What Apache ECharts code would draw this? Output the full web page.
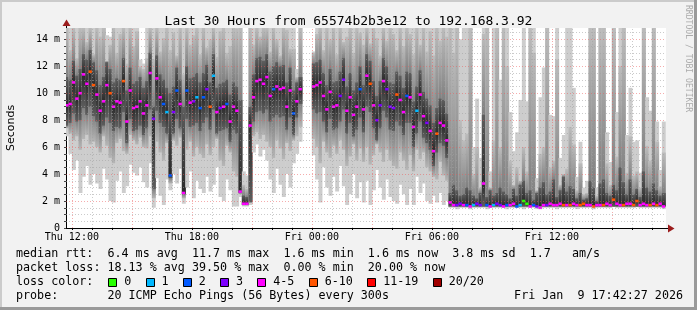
<!DOCTYPE html>
<html><head><meta charset="utf-8">
<script src="https://cdn.jsdelivr.net/npm/echarts@6/dist/echarts.min.js"></script>
<style>html,body{margin:0;padding:0;background:#f2f2f2;}#c{width:697px;height:310px;}</style>
</head><body><div id="c"></div>
<script>
// ---------- data ----------
const chartTitle = 'Last 30 Hours from 65574b2b3e12 to 192.168.3.92';
const t0 = 705, step = 10;            // 10-minute slots, minutes since Thu 00:00
const xMin = 702.45, xMax = 2502.45;  // Thu 11:42:27 .. Fri 17:42:27
const xLabelValues = [720, 1080, 1440, 1800, 2160];
const xLabels = ['Thu 12:00', 'Thu 18:00', 'Fri 00:00', 'Fri 06:00', 'Fri 12:00'];
const yMax = 14.84;
const yLabelValues = [0, 2, 4, 6, 8, 10, 12, 14];
const yLabels = ['0', '2 m', '4 m', '6 m', '8 m', '10 m', '12 m', '14 m'];

const med = [9.1,9.2,10.8,9.6,10.0,11.4,10.7,11.6,10.6,9.9,
 8.7,9.4,10.6,10.0,9.0,9.4,9.3,10.9,7.9,10.2,
 8.9,9.0,9.4,8.5,9.1,11.5,8.1,11.1,9.7,9.2,
 8.6,3.9,8.6,10.2,9.2,2.6,10.2,9.3,9.4,9.7,
 8.9,9.7,10.3,9.0,11.3,8.6,8.9,9.0,9.2,7.9,
 9.0,8.7,2.7,1.8,1.8,7.6,9.7,10.9,11.0,10.7,
 11.2,9.8,10.3,10.5,10.3,10.4,9.0,10.2,8.5,9.4,
 10.3,null,null,null,10.5,10.6,10.8,9.8,8.8,10.1,
 9.0,9.1,9.8,11.0,8.7,9.7,8.4,9.0,10.3,8.8,
 11.3,10.7,9.1,8.0,9.1,10.9,10.3,9.0,8.9,9.9,
 9.5,8.6,9.8,9.7,7.5,8.7,9.9,8.3,7.8,7.2,
 5.7,7.0,7.8,7.6,6.5,1.9,1.7,1.7,1.8,1.7,
 1.7,1.6,1.7,1.8,1.7,3.3,1.7,1.6,1.7,1.8,
 1.7,1.6,1.7,1.7,1.8,1.6,1.7,2.0,1.8,1.6,
 1.7,1.6,1.5,1.7,1.7,1.8,1.7,1.7,1.8,1.7,
 1.7,1.7,1.8,1.7,1.7,1.8,1.7,1.7,1.6,1.7,
 1.7,1.7,1.8,1.7,2.1,1.8,1.7,1.7,1.8,1.8,
 1.7,2.0,1.7,1.8,1.7,1.7,1.8,1.7,1.8,1.6];

// lost pings out of 20 per slot
const loss = [4,4,4,4,4,4,4,7,7,4,
 4,4,4,7,4,4,4,7,4,4,
 4,4,4,4,4,4,3,4,4,2,
 1,2,3,2,4,4,2,4,3,1,
 2,2,3,7,1,4,3,4,2,4,
 4,4,4,4,4,4,4,4,4,4,
 4,4,2,4,4,4,4,4,2,4,
 4,null,null,null,4,4,4,4,4,4,
 4,4,3,3,4,4,4,4,2,4,
 4,7,4,3,3,4,3,3,3,7,
 4,4,2,4,4,1,4,4,3,4,
 4,7,4,4,4,4,4,3,3,4,
 2,4,1,3,3,4,2,4,1,3,
 3,4,2,4,4,2,1,0,0,4,
 2,3,4,4,3,4,4,4,4,7,
 4,7,4,4,7,7,4,4,7,4,
 4,7,4,4,7,4,4,7,4,4,
 7,7,4,4,4,7,4,7,4,4];

// smoke: lowest ping, outer-middle band, dark core band, highest ping (ms)
const smokeLo = [6.8,5.5,4.3,5.0,2.6,3.8,4.6,3.2,4.0,3.3,
 2.9,4.4,3.6,2.0,1.9,3.5,4.2,2.6,3.1,4.7,
 4.1,3.9,4.5,3.4,3.0,4.8,1.5,3.7,2.4,1.7,
 3.6,2.8,4.0,3.3,4.4,1.8,3.0,4.2,2.2,3.5,
 2.9,2.6,3.8,2.7,3.2,4.5,2.3,2.0,3.6,2.8,
 1.6,1.6,2.3,1.6,1.6,1.7,5.6,6.2,5.3,5.8,
 5.0,3.6,2.6,4.4,3.2,2.3,4.0,3.0,4.8,5.5,
 6.4,null,null,null,5.4,3.6,1.9,4.5,3.0,2.4,
 3.8,2.7,4.6,3.1,1.7,2.5,4.0,2.2,3.4,1.9,
 3.5,1.7,2.8,4.3,3.0,2.1,3.6,2.3,2.0,1.8,
 3.2,2.5,1.7,2.9,1.7,3.8,2.6,3.3,2.0,1.8,
 2.4,1.9,2.6,1.7,2.0,1.5,1.5,1.4,1.5,1.5,
 1.5,1.4,1.5,1.5,1.5,1.5,1.4,1.5,1.5,1.5,
 1.5,1.5,1.4,1.5,1.5,1.5,1.5,1.4,1.5,1.5,
 1.5,1.4,1.4,1.5,1.5,1.5,1.5,1.4,1.5,1.5,
 1.5,1.5,1.5,1.4,1.5,1.5,1.5,1.5,1.4,1.5,
 1.5,1.5,1.5,1.5,1.6,1.5,1.5,1.5,1.5,1.5,
 1.5,1.6,1.5,1.5,1.5,1.5,1.5,1.5,1.5,1.4];

const smokeMidLo = [7.4,7.0,6.5,6.8,5.8,6.6,6.9,6.2,6.4,6.0,
 5.6,6.8,6.1,5.2,4.8,6.3,6.6,5.7,5.5,6.9,
 6.5,6.2,6.7,6.0,5.9,6.8,2.2,6.4,5.6,5.0,
 6.3,3.3,6.5,6.1,6.7,2.2,5.8,6.4,5.3,6.0,
 5.5,5.2,6.2,5.4,6.0,6.6,5.0,4.6,6.1,5.6,
 4.2,3.8,2.5,1.7,1.7,1.9,6.8,7.1,6.6,6.9,
 6.4,6.0,5.2,6.5,5.9,5.1,6.3,5.7,6.5,6.8,
 7.5,null,null,null,6.6,6.0,4.8,6.4,5.6,5.2,
 6.1,5.5,6.5,5.8,4.6,5.3,6.2,5.0,5.9,4.9,
 6.0,4.7,5.4,6.2,5.6,4.9,5.8,5.0,4.6,4.4,
 5.6,5.0,4.3,5.4,4.2,5.8,5.1,5.6,4.5,4.2,
 3.8,3.6,4.9,3.9,3.5,1.55,1.55,1.55,1.55,1.55,
 1.55,1.55,1.55,1.55,1.55,1.55,1.55,1.55,1.55,1.55,
 1.55,1.55,1.55,1.55,1.55,1.55,1.55,1.55,1.55,1.55,
 1.55,1.55,1.55,1.55,1.55,1.55,1.55,1.55,1.55,1.55,
 1.55,1.55,1.55,1.55,1.55,1.55,1.55,1.55,1.55,1.55,
 1.55,1.55,1.55,1.55,1.55,1.55,1.55,1.55,1.55,1.55,
 1.55,1.55,1.55,1.55,1.55,1.55,1.55,1.55,1.55,1.55];

const smokeDarkLo = [7.6,7.8,8.5,7.9,8.0,8.9,8.4,9.0,8.3,7.9,
 7.0,7.6,8.2,7.8,7.2,7.5,7.4,8.6,6.3,8.1,
 7.2,7.3,7.6,6.9,7.4,8.8,2.9,8.7,7.8,7.5,
 7.0,3.7,7.0,8.1,7.4,2.5,8.1,7.5,7.6,7.8,
 7.2,7.8,8.2,7.3,8.8,7.0,7.2,7.3,7.4,6.4,
 7.3,7.0,2.6,1.7,1.7,1.9,7.9,8.6,8.7,8.5,
 8.8,7.9,8.2,8.4,8.2,8.3,7.3,8.2,6.9,8.2,
 9.2,null,null,null,8.8,8.5,8.6,7.9,7.1,8.1,
 7.3,7.4,7.9,8.8,7.0,7.8,6.8,7.3,8.2,7.1,
 9.0,8.6,7.4,6.5,7.4,8.7,8.2,7.3,7.2,7.9,
 7.6,6.9,7.8,7.8,6.0,7.0,7.9,6.7,6.3,5.8,
 4.6,5.6,6.3,6.1,5.2,1.6,1.6,1.6,1.6,1.6,
 1.6,1.6,1.6,1.6,1.6,1.6,1.6,1.6,1.6,1.6,
 1.6,1.6,1.6,1.6,1.6,1.6,1.6,1.6,1.6,1.6,
 1.6,1.6,1.6,1.6,1.6,1.6,1.6,1.6,1.6,1.6,
 1.6,1.6,1.6,1.6,1.6,1.6,1.6,1.6,1.6,1.6,
 1.6,1.6,1.6,1.6,1.6,1.6,1.6,1.6,1.6,1.6,
 1.6,1.6,1.6,1.6,1.6,1.6,1.6,1.6,1.6,1.6];

const smokeDarkHi = [11.2,11.0,12.4,11.3,11.8,12.9,12.5,13.2,12.3,11.7,
 10.6,11.2,12.3,11.8,10.8,11.1,11.0,12.6,10.2,11.9,
 10.7,10.9,11.2,10.4,10.9,13.0,9.0,12.8,11.4,11.0,
 10.4,10.0,10.5,11.9,11.0,9.0,12.0,11.1,11.2,11.5,
 10.8,11.5,12.1,10.8,12.9,10.4,10.7,10.8,11.0,9.9,
 10.8,10.5,9.5,2.4,2.3,9.0,11.4,12.6,12.7,12.4,
 12.9,11.6,12.0,12.3,12.0,12.1,10.8,11.9,10.2,10.8,
 11.2,null,null,null,12.2,12.3,12.5,11.5,10.6,11.8,
 10.8,10.9,11.6,12.6,10.5,11.5,10.2,10.8,12.0,10.6,
 12.9,12.4,10.9,9.8,10.9,12.6,12.0,10.8,10.7,11.6,
 11.3,10.4,11.6,11.5,9.4,10.5,11.7,10.1,9.6,9.1,
 7.8,8.9,9.6,9.5,8.5,2.6,3.2,2.8,2.4,2.5,
 3.0,2.8,2.4,2.2,2.6,8.4,2.3,2.8,2.4,2.6,
 3.0,2.7,2.5,2.2,2.9,2.4,3.2,3.5,2.6,2.8,
 2.1,2.6,3.0,3.4,2.5,2.7,3.6,2.3,2.8,3.8,
 2.7,3.1,2.9,2.2,2.6,2.1,2.2,3.5,3.0,2.0,
 3.3,3.6,2.6,2.4,3.2,2.8,4.5,3.4,2.5,3.6,
 2.5,2.9,2.3,4.2,3.0,2.7,3.3,2.8,2.4,2.6];

const smokeMidHi = [15,13.2,15,12.6,15,15,13.8,15,12.9,15,
 14.2,15,12.4,13.6,15,13.0,14.4,15,12.2,15,
 13.5,14.6,12.0,11.8,12.6,15,12.5,15,13.1,14.1,
 15,13.2,14.5,12.8,15,11.4,15,13.6,14.3,15,
 12.9,15,13.4,14.0,15,12.7,14.6,15,13.0,13.5,
 15,14.8,15,3.2,2.9,15,13.6,15,14.2,15,
 15,13.1,15,14.0,12.8,15,14.7,13.3,13.3,11.2,
 15,null,null,null,13.0,14.4,15,13.2,15,14.0,
 15,12.9,15,13.8,14.2,15,13.0,15,14.5,13.6,
 15,13.7,15,14.1,12.8,15,13.9,15,14.4,13.2,
 15,13.5,15,14.4,12.9,15,13.6,15,13.1,14.6,
 12.8,15,13.9,15,14.2,15,13.0,15,8.0,6.5,
 7.0,15,4.0,6.0,3.0,14.4,15,3.0,6.5,15,
 6.0,15,12.0,5.0,3.2,4.5,3.5,6.0,4.2,15,
 13.0,2.8,5.5,6.0,15,4.5,5.0,12.5,3.2,4.0,
 4.4,7.5,6.2,2.8,4.8,2.5,2.6,15,15,2.4,
 15,15,4.8,3.2,15,5.3,12.0,15,4.1,6.8,
 3.9,4.2,3.0,15,6.1,5.0,15,6.4,3.1,5.6];

const smokeHi = [15,15,15,15,15,15,15,15,15,15,
 15,15,14.3,14.2,15,15,15,15,15,15,
 15,15,12.5,12.2,15,15,15,15,15,15,
 15,15,15,15,15,15,15,15,15,15,
 15,15,15,15,15,15,15,15,15,15,
 15,15,15,4.2,3.9,15,15,15,15,15,
 15,15,15,15,15,15,15,15,15,11.8,
 15,null,null,null,13.1,15,15,15,15,15,
 15,15,15,15,15,15,15,15,15,15,
 15,15,15,15,15,15,15,15,15,15,
 15,15,15,15,15,15,15,15,15,15,
 15,15,15,15,15,15,15,15,14.0,15,
 15,15,6.0,9.6,5.2,15,15,4.2,15,15,
 11.0,15,15,8.6,5.7,7.1,9.5,15,9.4,15,
 15,3.7,9.7,11.9,15,8.4,8.3,15,5.2,6.9,
 15,15,10.4,3.8,6.4,3.0,3.5,15,15,3.0,
 15,15,7.1,4.9,15,8.6,15,15,6.9,10.4,
 6.4,6.5,4.1,15,9.7,8.7,15,7.9,4.3,7.9];

const lossNames = ['0', '1', '2', '3', '4-5', '6-10', '11-19', '20/20'];
const lossColors = ['#26ff00', '#00b8ff', '#0059ff', '#7e00ff', '#ff00ff', '#ff5500', '#ff0000', '#a10000'];

const statLines = [
  'median rtt:  6.4 ms avg  11.7 ms max  1.6 ms min  1.6 ms now  3.8 ms sd  1.7   am/s',
  'packet loss: 18.13 % avg 39.50 % max  0.00 % min  20.00 % now',
  'loss color:',
  'probe:       20 ICMP Echo Pings (56 Bytes) every 300s'
];
const stamp = 'Fri Jan  9 17:42:27 2026';
const credit = 'RRDTOOL / TOBI OETIKER';

// ---------- build ----------
function lossClass(n) { if (n <= 3) return n; if (n <= 5) return 4; if (n <= 10) return 5; if (n <= 19) return 6; return 7; }

const smokeData = [], medData = [];
for (let i = 0; i < med.length; i++) {
  const t = t0 + step * i;
  if (smokeHi[i] != null) smokeData.push([t, smokeLo[i], smokeMidLo[i], smokeDarkLo[i], smokeDarkHi[i], smokeMidHi[i], smokeHi[i], med[i]]);
  if (med[i] != null) medData.push([t, med[i], loss[i]]);
}

const MONO = 'DejaVu Sans Mono';
const majorGrid = 'rgba(235,90,90,0.5)', minorGrid = 'rgba(160,160,160,0.55)';
const gridLines = [];
for (let v = 0.5; v < yMax; v += 0.5) gridLines.push({ yAxis: v, lineStyle: { color: (v % 2 === 0) ? majorGrid : minorGrid } });
const hourTicks = [];
for (let t = 720; t < xMax; t += 60) {
  hourTicks.push(t);
  gridLines.push({ xAxis: t, lineStyle: { color: (t % 180 === 0) ? majorGrid : minorGrid } });
}

function clampY(v) { return Math.min(v, yMax); }
function clamp01(v) { return Math.max(0, Math.min(1, v)); }

const graphics = [
  { type: 'rect', shape: { x: 0, y: 0, width: 697, height: 2 }, style: { fill: '#cbcbcb' }, silent: true },
  { type: 'rect', shape: { x: 0, y: 0, width: 2, height: 310 }, style: { fill: '#cbcbcb' }, silent: true },
  { type: 'rect', shape: { x: 0, y: 307, width: 697, height: 3 }, style: { fill: '#9a9a9a' }, silent: true },
  { type: 'rect', shape: { x: 694, y: 0, width: 3, height: 310 }, style: { fill: '#9a9a9a' }, silent: true },
  { type: 'line', shape: { x1: 666, y1: 228.5, x2: 669, y2: 228.5 }, style: { stroke: '#000', lineWidth: 1 }, silent: true },
  { type: 'polygon', shape: { points: [[668, 224.5], [674.5, 228.5], [668, 232.5]] }, style: { fill: '#9b1c1c' }, silent: true },
  { type: 'line', shape: { x1: 66.5, y1: 28, x2: 66.5, y2: 25 }, style: { stroke: '#000', lineWidth: 1 }, silent: true },
  { type: 'polygon', shape: { points: [[62.5, 26], [66.5, 19.5], [70.5, 26]] }, style: { fill: '#9b1c1c' }, silent: true },
  { type: 'text', x: 11, y: 128, rotation: Math.PI / 2, style: { text: 'Seconds', font: '11px "DejaVu Sans"', fill: '#000', textAlign: 'center', textVerticalAlign: 'middle' }, silent: true },
  { type: 'text', x: 688, y: 5, rotation: -Math.PI / 2, style: { text: credit, font: '8.1px "DejaVu Sans Mono"', fill: '#ababab', textAlign: 'left', textVerticalAlign: 'middle' }, silent: true }
];
const lineY = [254, 268, 282, 296];
statLines.forEach((s, k) => graphics.push({ type: 'text', x: 16, y: lineY[k], style: { text: s, font: '11.7px "DejaVu Sans Mono"', fill: '#000', textVerticalAlign: 'middle' }, silent: true }));
graphics.push({ type: 'text', x: 683, y: lineY[3], style: { text: stamp, font: '11.7px "DejaVu Sans Mono"', fill: '#000', textAlign: 'right', textVerticalAlign: 'middle' }, silent: true });
let bx = 108.3;
const cw = 7.08;
lossNames.forEach((n, k) => {
  graphics.push({ type: 'rect', shape: { x: Math.round(bx) + 0.5, y: 278.5, width: 8, height: 8 }, style: { fill: lossColors[k], stroke: '#000', lineWidth: 1 }, silent: true });
  graphics.push({ type: 'text', x: bx + 16, y: lineY[2], style: { text: n, font: '11.7px "DejaVu Sans Mono"', fill: '#000', textVerticalAlign: 'middle' }, silent: true });
  bx += 16 + n.length * cw + 2 * cw;
});

const chart = echarts.init(document.getElementById('c'), null, { renderer: 'canvas' });
chart.setOption({
  animation: false,
  backgroundColor: '#f2f2f2',
  title: { text: chartTitle, left: 'center', top: 10, textStyle: { fontFamily: MONO, fontSize: 13, fontWeight: 'normal', color: '#000' } },
  grid: { left: 66, top: 28, width: 600, height: 200, show: true, backgroundColor: '#ffffff', borderWidth: 0, containLabel: false, outerBoundsMode: 'none' },
  xAxis: {
    type: 'value', min: xMin, max: xMax,
    axisLine: { show: true, lineStyle: { color: '#000', width: 1 } },
    axisTick: { show: true, length: 2, customValues: hourTicks, lineStyle: { color: '#000' } },
    axisLabel: { customValues: xLabelValues, formatter: v => xLabels[xLabelValues.indexOf(v)] || '', fontFamily: MONO, fontSize: 10, color: '#000', margin: 4, hideOverlap: false },
    splitLine: { show: false }
  },
  yAxis: {
    type: 'value', min: 0, max: yMax, interval: 0.5,
    axisLine: { show: true, lineStyle: { color: '#000', width: 1 } },
    axisTick: { show: true, length: 2, lineStyle: { color: '#444' } },
    axisLabel: { formatter: v => { const k = yLabelValues.indexOf(v); return k >= 0 ? yLabels[k] : ''; }, fontFamily: MONO, fontSize: 10, color: '#000', margin: 6, showMaxLabel: false },
    splitLine: { show: false }
  },
  graphic: graphics,
  series: [
    {
      type: 'custom', name: 'smoke', data: smokeData, clip: true, silent: true, z: 2,
      encode: { x: 0, y: [1, 6] },
      renderItem: function (params, api) {
        const t = api.value(0);
        const xa = api.coord([t - step / 2, 0])[0], xb = api.coord([t + step / 2, 0])[0];
        const w = xb - xa + 0.6;
        const Y = v => api.coord([t, clampY(v)])[1];
        const yLo = Y(api.value(1)), yMl = Y(api.value(2)), yDl = Y(api.value(3));
        const yDh = Y(api.value(4)), yMh = Y(api.value(5)), yHi = Y(api.value(6)), yMed = Y(api.value(7));
        // middle band gradient: light at its edges, darker next to the core
        const mh = Math.max(yMl - yMh, 0.01);
        const midFill = new echarts.graphic.LinearGradient(0, 0, 0, 1, [
          { offset: 0, color: '#bcbcbc' },
          { offset: clamp01((yDh - yMh) / mh), color: '#808080' },
          { offset: clamp01((yDl - yMh) / mh), color: '#808080' },
          { offset: 1, color: '#b6b6b6' }
        ]);
        const dh = Math.max(yDl - yDh, 0.01);
        const darkFill = new echarts.graphic.LinearGradient(0, 0, 0, 1, [
          { offset: 0, color: '#5e5e5e' },
          { offset: clamp01((yMed - yDh) / dh), color: '#2a2a2a' },
          { offset: 1, color: '#5e5e5e' }
        ]);
        return { type: 'group', children: [
          { type: 'rect', shape: { x: xa, y: yHi, width: w, height: yLo - yHi }, style: { fill: '#cdcdcd' } },
          { type: 'rect', shape: { x: xa, y: yMh, width: w, height: yMl - yMh }, style: { fill: midFill } },
          { type: 'rect', shape: { x: xa, y: yDh, width: w, height: yDl - yDh }, style: { fill: darkFill } }
        ] };
      }
    },
    {
      type: 'line', name: 'grid', data: [], z: 3, silent: true,
      markLine: { silent: true, symbol: ['none', 'none'], label: { show: false }, animation: false, lineStyle: { type: [1, 2], width: 1 }, data: gridLines }
    },
    {
      type: 'custom', name: 'median', data: medData, clip: true, silent: true, z: 4,
      encode: { x: 0, y: 1 },
      renderItem: function (params, api) {
        const t = api.value(0);
        const xa = api.coord([t - step / 2, 0])[0], xb = api.coord([t + step / 2, 0])[0];
        const y = api.coord([t, api.value(1)])[1];
        return { type: 'rect', shape: { x: xa, y: y - 1.3, width: xb - xa, height: 2.6 }, style: { fill: lossColors[lossClass(api.value(2))] } };
      }
    }
  ]
});
</script>
</body></html>
